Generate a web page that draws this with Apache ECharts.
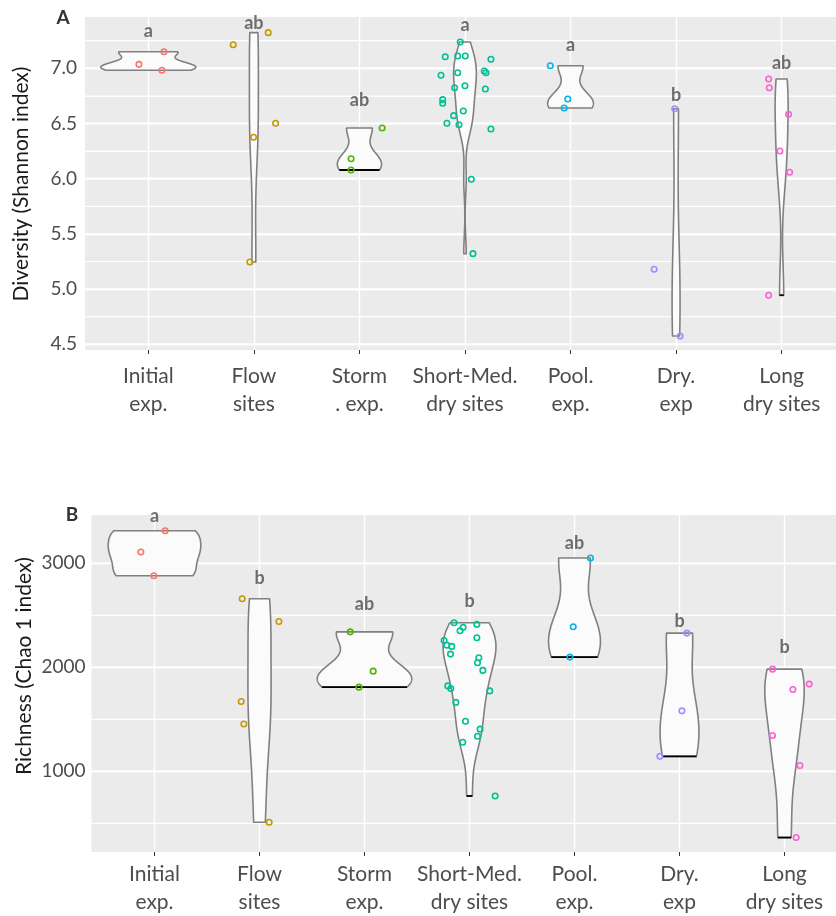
<!DOCTYPE html>
<html><head><meta charset="utf-8">
<script src="https://cdn.jsdelivr.net/npm/echarts@6/dist/echarts.min.js"></script>
<style>html,body{margin:0;padding:0;background:#fff}#c{width:836px;height:916px}</style>
</head><body><div id="c"></div>
<script>
// ---------------- DATA ----------------
const categoriesA = ['Initial\nexp.', 'Flow\nsites', 'Storm\n. exp.', 'Short-Med.\ndry sites', 'Pool.\nexp.', 'Dry.\nexp', 'Long\ndry sites'];
const categoriesB = ['Initial\nexp.', 'Flow\nsites', 'Storm\nexp.', 'Short-Med.\ndry sites', 'Pool.\nexp.', 'Dry.\nexp', 'Long\ndry sites'];

// Panel A: Diversity (Shannon index)
const shannonInitial = [7.150, 7.036, 6.982];
const shannonFlow = [7.323, 7.214, 6.502, 6.375, 5.245];
const shannonStorm = [6.459, 6.181, 6.079];
const shannonShortMed = [7.238, 7.105, 7.111, 7.111, 7.082, 6.937, 6.960, 6.976, 6.960, 6.824, 6.842, 6.813, 6.716, 6.683, 6.613, 6.571, 6.502, 6.489, 6.450, 5.995, 5.321];
const shannonPool = [7.024, 6.722, 6.640];
const shannonDry = [6.634, 5.179, 4.575];
const shannonLong = [6.903, 6.824, 6.583, 6.251, 6.058, 4.944];
// horizontal jitter of each point (category units)
const jitterA = [
  [0.148, -0.089, 0.129],
  [0.136, -0.196, 0.206, -0.003, -0.038],
  [0.215, -0.079, -0.079],
  [-0.045, -0.187, -0.069, 0.003, 0.246, -0.227, -0.069, 0.183, 0.199, -0.098, 0.000, 0.193, -0.211, -0.211, -0.016, -0.107, -0.171, -0.057, 0.246, 0.060, 0.076],
  [-0.192, -0.026, -0.060],
  [-0.013, -0.208, 0.038],
  [-0.123, -0.117, 0.066, -0.016, 0.076, -0.123]
];
const lettersA = ['a', 'ab', 'ab', 'a', 'a', 'b', 'ab'];
const letterLevelA = [7.34, 7.41, 6.71, 7.39, 7.21, 6.76, 7.045];
const ticksA = [4.5, 5.0, 5.5, 6.0, 6.5, 7.0];
const minorTicksA = [4.75, 5.25, 5.75, 6.25, 6.75, 7.25];

// Panel B: Richness (Chao 1 index)
const chaoInitial = [3314, 3109, 2881];
const chaoFlow = [2659, 2441, 1671, 1455, 509];
const chaoStorm = [2341, 1963, 1809];
const chaoShortMed = [2428, 2384, 2351, 2413, 2284, 2258, 2213, 2201, 2127, 2091, 2043, 1970, 1821, 1796, 1773, 1662, 1481, 1405, 1337, 1279, 762];
const chaoPool = [3051, 2390, 2098];
const chaoDry = [2329, 1581, 1143];
const chaoLong = [1982, 1838, 1787, 1344, 1055, 362];
const jitterB = [
  [0.102, -0.130, -0.006],
  [-0.165, 0.185, -0.174, -0.149, 0.092],
  [-0.136, 0.083, -0.053],
  [-0.147, -0.061, -0.090, 0.070, 0.070, -0.242, -0.216, -0.169, -0.181, 0.089, 0.076, 0.127, -0.207, -0.178, 0.193, -0.130, -0.038, 0.101, 0.076, -0.064, 0.244],
  [0.152, -0.012, -0.044],
  [0.070, 0.023, -0.187],
  [-0.114, 0.235, 0.080, -0.114, 0.147, 0.111]
];
const lettersB = ['a', 'b', 'ab', 'b', 'ab', 'b', 'b'];
const letterLevelB = [3449, 2856, 2605, 2637, 3198, 2447, 2197];
const ticksB = [1000, 2000, 3000];
const minorTicksB = [500, 1500, 2500];

const shannonGroups = [shannonInitial, shannonFlow, shannonStorm, shannonShortMed, shannonPool, shannonDry, shannonLong];
const chaoGroups = [chaoInitial, chaoFlow, chaoStorm, chaoShortMed, chaoPool, chaoDry, chaoLong];

// ---------------- STYLE ----------------
const FONT = 'Lato, "Open Sans", sans-serif';
const palette = ['#F8766D', '#C49A00', '#53B400', '#00C094', '#00B6EB', '#A58AFF', '#FB61D7'];
const blackBaseA = [false, false, true, false, false, false, true];
const blackBaseB = [false, false, true, true, true, true, true];
const MARK_LAYER = 1; // violins, points and letters on their own canvas layer above the grid lines

// ---------------- KDE (ggplot2 geom_violin, scale = "area", trim = TRUE) ----------------
function quantile(s, p) {
  const h = (s.length - 1) * p, lo = Math.floor(h);
  const hi = Math.min(lo + 1, s.length - 1);
  return s[lo] + (h - lo) * (s[hi] - s[lo]);
}
function bwNrd0(x) {
  const n = x.length;
  const s = x.slice().sort((a, b) => a - b);
  const mean = x.reduce((a, b) => a + b, 0) / n;
  const sd = Math.sqrt(x.reduce((a, b) => a + (b - mean) * (b - mean), 0) / (n - 1));
  const iqr = quantile(s, 0.75) - quantile(s, 0.25);
  let lo = Math.min(sd, iqr / 1.34);
  if (!lo) lo = sd || Math.abs(x[0]) || 1;
  return 0.9 * lo * Math.pow(n, -0.2);
}
function kde(x) {
  const bw = bwNrd0(x), n = x.length, N = 256;
  const mn = Math.min(...x), mx = Math.max(...x);
  const ys = [], ds = [];
  for (let k = 0; k < N; k++) {
    const y = mn + (mx - mn) * k / (N - 1);
    let d = 0;
    for (const v of x) { const z = (y - v) / bw; d += Math.exp(-0.5 * z * z); }
    ys.push(y); ds.push(d / (n * bw * Math.sqrt(2 * Math.PI)));
  }
  return { ys, ds };
}
function violinCurves(groups) {
  const c = groups.map(kde);
  const maxD = Math.max(...c.map(o => Math.max(...o.ds)));
  return c.map(o => ({ ys: o.ys, hw: o.ds.map(d => 0.45 * d / maxD) }));
}

// ---------------- SERIES BUILDERS ----------------
function gridLineSeries(gi, major, minor) {
  const mid = major[Math.floor(major.length / 2)];
  const lines = minor.map(v => ({ yAxis: v, lineStyle: { color: '#FFFFFF', width: 1.0, type: 'solid' } }))
    .concat(major.map(v => ({ yAxis: v, lineStyle: { color: '#FFFFFF', width: 1.4, type: 'solid' } })))
    .concat([0, 1, 2, 3, 4, 5, 6].map(v => ({ xAxis: v, lineStyle: { color: '#FFFFFF', width: 1.4, type: 'solid' } })));
  return {
    type: 'custom', xAxisIndex: gi, yAxisIndex: gi, z: 1, zlevel: 0, clip: false,
    data: [[3, mid]],
    renderItem: (params, api) => {
      const cs = params.coordSys;
      const ch = [];
      const hline = (v, w) => {
        const y = api.coord([3, v])[1];
        ch.push({ type: 'rect', shape: { x: cs.x, y: y - w / 2, width: cs.width, height: w }, style: { fill: '#FFFFFF' } });
      };
      minor.forEach(v => hline(v, 1.0));
      major.forEach(v => hline(v, 1.4));
      return { type: 'group', children: ch };
    },
    markLine: { silent: true, z: 1, zlevel: 0, symbol: ['none', 'none'], label: { show: false }, animation: false, data: lines }
  };
}
function violinSeries(gi, groups, baseFlags) {
  const curves = violinCurves(groups);
  return {
    type: 'custom', xAxisIndex: gi, yAxisIndex: gi, z: 2, zlevel: MARK_LAYER,
    data: groups.map((g, i) => [i, Math.max(...g)]),
    renderItem: (params, api) => {
      const g = params.dataIndex, c = curves[g];
      const pts = [];
      for (let k = 0; k < c.ys.length; k++) pts.push(api.coord([g + c.hw[k], c.ys[k]]));
      for (let k = c.ys.length - 1; k >= 0; k--) pts.push(api.coord([g - c.hw[k], c.ys[k]]));
      const ch = [{ type: 'polygon', shape: { points: pts }, style: { fill: '#FBFBFB', stroke: '#808080', lineWidth: 1.6, lineJoin: 'round' } }];
      if (baseFlags[g]) {
        const l = api.coord([g - c.hw[0], c.ys[0]]), r = api.coord([g + c.hw[0], c.ys[0]]);
        ch.push({ type: 'rect', shape: { x: l[0], y: l[1] - 0.9, width: Math.max(r[0] - l[0], 1), height: 1.8 }, style: { fill: '#000000' } });
      }
      return { type: 'group', children: ch };
    }
  };
}
function pointSeries(gi, groups, jitter) {
  return groups.map((g, i) => ({
    type: 'scatter', xAxisIndex: gi, yAxisIndex: gi, z: 3, zlevel: MARK_LAYER,
    symbol: 'circle', symbolSize: 5.5,
    itemStyle: { color: 'rgba(255,255,255,0)', borderColor: palette[i], borderWidth: 1.6, opacity: 1 },
    data: g.map((v, j) => [i + jitter[i][j], v])
  }));
}
function letterSeries(gi, letters, levels) {
  return {
    type: 'scatter', xAxisIndex: gi, yAxisIndex: gi, z: 4, zlevel: MARK_LAYER,
    symbol: 'circle', symbolSize: 1,
    itemStyle: { color: 'rgba(0,0,0,0)' },
    data: letters.map((t, i) => ({ value: [i, levels[i]], name: t })),
    label: { show: true, position: 'inside', formatter: p => p.name, color: '#4D4D4D', fontFamily: FONT, fontWeight: 'bold', fontSize: 18 }
  };
}
function xAxis(gi, cats, max, margin) {
  return {
    gridIndex: gi, type: 'value', min: -0.6, max: max,
    axisLine: { show: false }, splitLine: { show: false },
    axisTick: { show: true, customValues: [0, 1, 2, 3, 4, 5, 6], length: 4, lineStyle: { color: '#333333', width: 1 } },
    axisLabel: { show: true, customValues: [0, 1, 2, 3, 4, 5, 6], formatter: v => cats[Math.round(v)], margin: margin,
      color: '#4D4D4D', fontFamily: FONT, fontSize: 21, lineHeight: 28, align: 'center' }
  };
}
function yAxis(gi, min, max, ticks, fmt, margin) {
  return {
    gridIndex: gi, type: 'value', min: min, max: max,
    axisLine: { show: false },
    splitLine: { show: true, lineStyle: { color: '#FFFFFF', width: 1.4 } },
    axisTick: { show: true, customValues: ticks, length: 4, lineStyle: { color: '#333333', width: 1 } },
    axisLabel: { show: true, customValues: ticks, formatter: fmt, margin: margin, color: '#4D4D4D', fontFamily: FONT, fontSize: 19 }
  };
}
// companion axis on the same grid that only carries the minor grid lines
function minorYAxis(gi, min, max, minor) {
  return {
    gridIndex: gi, type: 'value', min: min, max: max, position: 'left',
    axisLine: { show: false },
    splitLine: { show: true, lineStyle: { color: '#FFFFFF', width: 1.0 } },
    axisTick: { show: false, customValues: minor },
    axisLabel: { show: false, customValues: minor }
  };
}

const yMinA = 4.448, yMaxA = 7.465, yMinB = 223, yMaxB = 3465;
// panels are cut by the right edge of the picture: the visible x range ends before the ggplot expansion
const xMaxA = -0.6 + 751 / 105.55, xMaxB = -0.6 + 744.5 / 105.0;

const option = {
  animation: false,
  backgroundColor: '#FFFFFF',
  grid: [
    { left: 85, top: 17, width: 751, height: 333, show: true, backgroundColor: '#EBEBEB', borderWidth: 0 },
    { left: 91.5, top: 515, width: 744.5, height: 337, show: true, backgroundColor: '#EBEBEB', borderWidth: 0 }
  ],
  xAxis: [xAxis(0, categoriesA, xMaxA, 12), xAxis(1, categoriesB, xMaxB, 8)],
  yAxis: [
    yAxis(0, yMinA, yMaxA, ticksA, v => Number(v).toFixed(1), 8),
    yAxis(1, yMinB, yMaxB, ticksB, v => String(Math.round(v)), 6),
    minorYAxis(0, yMinA, yMaxA, minorTicksA),
    minorYAxis(1, yMinB, yMaxB, minorTicksB)
  ],
  graphic: [
    { type: 'text', x: 63, y: 18, style: { text: 'A', fontFamily: FONT, fontWeight: 'bold', fontSize: 19, fill: '#333333', align: 'center', verticalAlign: 'middle' } },
    { type: 'text', x: 72, y: 515, style: { text: 'B', fontFamily: FONT, fontWeight: 'bold', fontSize: 19, fill: '#333333', align: 'center', verticalAlign: 'middle' } },
    { type: 'text', x: 21, y: 184, rotation: Math.PI / 2, style: { text: 'Diversity (Shannon index)', fontFamily: FONT, fontSize: 21, fill: '#1A1A1A', align: 'center', verticalAlign: 'middle' } },
    { type: 'text', x: 24, y: 666, rotation: Math.PI / 2, style: { text: 'Richness (Chao 1 index)', fontFamily: FONT, fontSize: 21, fill: '#1A1A1A', align: 'center', verticalAlign: 'middle' } }
  ],
  series: [].concat(
    [gridLineSeries(0, ticksA, minorTicksA), gridLineSeries(1, ticksB, minorTicksB)],
    [violinSeries(0, shannonGroups, blackBaseA), violinSeries(1, chaoGroups, blackBaseB)],
    pointSeries(0, shannonGroups, jitterA),
    pointSeries(1, chaoGroups, jitterB),
    [letterSeries(0, lettersA, letterLevelA), letterSeries(1, lettersB, letterLevelB)]
  )
};

const chart = echarts.init(document.getElementById('c'), null, { renderer: 'canvas', width: 836, height: 916 });
chart.setOption(option);
</script>
</body></html>
